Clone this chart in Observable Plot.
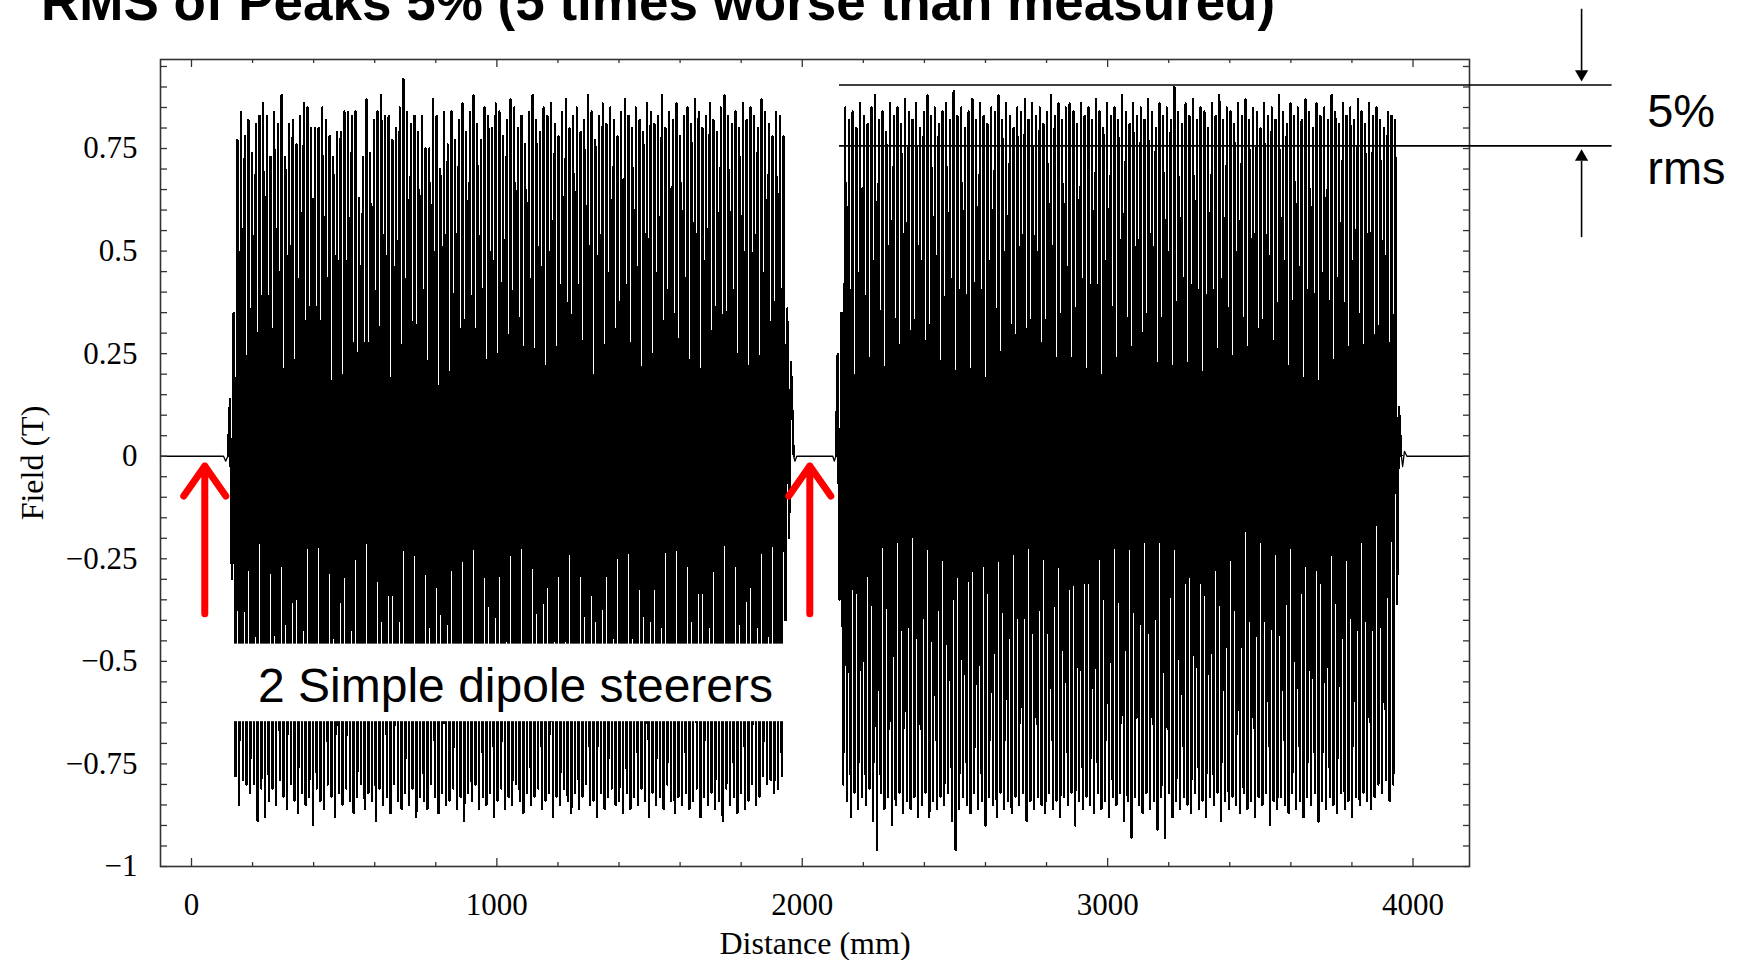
<!DOCTYPE html>
<html><head><meta charset="utf-8">
<script src="https://cdn.jsdelivr.net/npm/d3@7"></script>
<script src="https://cdn.jsdelivr.net/npm/@observablehq/plot@0.6"></script>
<style>
html,body{margin:0;padding:0;background:#fff;overflow:hidden;}
#wrap{position:relative;width:1738px;height:960px;}
#title{position:absolute;left:41px;top:-25px;font-family:"Liberation Sans",Arial,sans-serif;font-weight:bold;font-size:53px;line-height:53px;white-space:nowrap;color:#000;}
</style></head><body>
<div id="wrap"><div id="chart"></div><div id="title">RMS of Peaks 5% (5 times worse than measured)</div></div>
<script>
// ---- data (Distance in mm, Field in T) ----
const sec1Range = [126, 1963];
const sec2Range = [2116, 3954];
const sec1Top = [0.14,0.35,0.77,0.84,0.78,0.82,0.74,0.81,0.83,0.86,0.83,0.73,0.84,0.81,0.88,0.73,0.81,0.82,0.76,0.83,
0.86,0.85,0.80,0.80,0.80,0.85,0.82,0.78,0.73,0.79,0.79,0.84,0.84,0.83,0.84,0.63,0.73,0.87,0.74,0.82,
0.84,0.88,0.83,0.83,0.77,0.80,0.85,0.92,0.84,0.81,0.83,0.79,0.83,0.75,0.75,0.87,0.83,0.70,0.84,0.76,
0.84,0.77,0.82,0.86,0.79,0.84,0.88,0.81,0.77,0.85,0.83,0.80,0.86,0.84,0.78,0.82,0.87,0.85,0.80,0.83,
0.76,0.84,0.88,0.82,0.79,0.85,0.83,0.86,0.81,0.78,0.84,0.87,0.80,0.83,0.85,0.79,0.82,0.88,0.84,0.77,
0.83,0.86,0.81,0.85,0.82,0.78,0.84,0.87,0.83,0.80,0.85,0.82,0.79,0.86,0.84,0.81,0.83,0.88,0.80,0.84,
0.82,0.86,0.78,0.83,0.85,0.81,0.87,0.84,0.80,0.83,0.86,0.82,0.79,0.85,0.88,0.83,0.81,0.84,0.80,0.86,
0.82,0.85,0.83,0.80,0.87,0.84,0.81,0.78,0.84,0.83,0.78,0.36,0.23];
const sec1Bot = [-0.30,-0.78,-0.85,-0.79,-0.80,-0.82,-0.80,-0.89,-0.81,-0.88,-0.84,-0.81,-0.85,-0.79,-0.83,-0.86,-0.80,-0.84,-0.87,-0.82,
-0.85,-0.83,-0.90,-0.81,-0.84,-0.86,-0.80,-0.83,-0.88,-0.82,-0.85,-0.81,-0.84,-0.87,-0.83,-0.80,-0.86,-0.82,-0.84,-0.89,
-0.81,-0.85,-0.83,-0.87,-0.80,-0.84,-0.86,-0.82,-0.85,-0.81,-0.88,-0.83,-0.84,-0.86,-0.80,-0.83,-0.87,-0.82,-0.85,-0.84,
-0.81,-0.86,-0.83,-0.89,-0.82,-0.84,-0.80,-0.86,-0.83,-0.85,-0.82,-0.88,-0.84,-0.81,-0.86,-0.83,-0.85,-0.80,-0.84,-0.87,
-0.82,-0.85,-0.83,-0.81,-0.86,-0.84,-0.82,-0.88,-0.83,-0.85,-0.81,-0.84,-0.87,-0.82,-0.86,-0.83,-0.80,-0.85,-0.84,-0.88,
-0.82,-0.86,-0.83,-0.81,-0.85,-0.84,-0.87,-0.82,-0.86,-0.83,-0.85,-0.81,-0.84,-0.88,-0.82,-0.85,-0.83,-0.86,-0.80,-0.84,
-0.87,-0.83,-0.85,-0.82,-0.86,-0.84,-0.81,-0.88,-0.83,-0.85,-0.82,-0.86,-0.84,-0.89,-0.81,-0.85,-0.83,-0.87,-0.82,-0.86,
-0.84,-0.80,-0.85,-0.83,-0.78,-0.80,-0.79,-0.82,-0.81,-0.78,-0.40,-0.20];
const sec2Top = [0.25,0.35,0.85,0.82,0.84,0.80,0.86,0.83,0.81,0.85,0.88,0.82,0.84,0.79,0.86,0.83,0.85,0.81,0.87,0.84,
0.82,0.86,0.80,0.84,0.88,0.83,0.85,0.81,0.84,0.86,0.82,0.89,0.83,0.85,0.80,0.84,0.87,0.82,0.86,0.83,
0.81,0.85,0.84,0.88,0.82,0.86,0.83,0.80,0.85,0.84,0.87,0.82,0.86,0.83,0.85,0.81,0.84,0.88,0.83,0.86,
0.82,0.85,0.86,0.84,0.81,0.86,0.83,0.85,0.82,0.87,0.84,0.80,0.86,0.83,0.85,0.82,0.88,0.84,0.81,0.86,
0.83,0.85,0.82,0.87,0.84,0.80,0.86,0.83,0.85,0.82,0.90,0.84,0.81,0.86,0.83,0.87,0.82,0.85,0.84,0.80,
0.86,0.83,0.88,0.82,0.85,0.84,0.81,0.86,0.83,0.87,0.82,0.85,0.84,0.80,0.86,0.83,0.85,0.82,0.88,0.84,
0.81,0.86,0.83,0.85,0.82,0.87,0.84,0.80,0.86,0.83,0.85,0.82,0.88,0.84,0.81,0.86,0.83,0.85,0.82,0.87,
0.84,0.81,0.86,0.83,0.85,0.82,0.80,0.84,0.83,0.82,0.12];
const sec2Bot = [-0.35,-0.80,-0.84,-0.88,-0.82,-0.86,-0.83,-0.85,-0.81,-0.89,-0.96,-0.82,-0.86,-0.83,-0.90,-0.85,-0.82,-0.87,-0.84,-0.86,
-0.83,-0.88,-0.85,-0.82,-0.88,-0.84,-0.86,-0.83,-0.85,-0.82,-0.89,-0.96,-0.86,-0.83,-0.85,-0.87,-0.82,-0.86,-0.84,-0.90,
-0.83,-0.85,-0.88,-0.82,-0.86,-0.84,-0.87,-0.83,-0.85,-0.82,-0.89,-0.84,-0.86,-0.83,-0.85,-0.87,-0.82,-0.86,-0.84,-0.88,
-0.83,-0.85,-0.82,-0.90,-0.84,-0.86,-0.83,-0.85,-0.87,-0.82,-0.86,-0.84,-0.88,-0.83,-0.85,-0.82,-0.89,-0.84,-0.93,-0.83,
-0.85,-0.87,-0.82,-0.86,-0.84,-0.91,-0.83,-0.93,-0.82,-0.88,-0.84,-0.86,-0.83,-0.85,-0.87,-0.82,-0.86,-0.84,-0.88,-0.83,
-0.85,-0.82,-0.89,-0.84,-0.86,-0.83,-0.85,-0.87,-0.82,-0.86,-0.84,-0.88,-0.83,-0.85,-0.82,-0.90,-0.84,-0.86,-0.83,-0.85,
-0.87,-0.82,-0.86,-0.84,-0.88,-0.83,-0.85,-0.82,-0.89,-0.84,-0.86,-0.83,-0.85,-0.87,-0.82,-0.86,-0.84,-0.88,-0.83,-0.85,
-0.82,-0.84,-0.86,-0.83,-0.80,-0.82,-0.79,-0.84,-0.80,-0.36];
// near-zero regions around the two undulator sections
const leadIn  = [[-101.5, 0], [105, 0], [112, -0.012], [119, 0]];
const gap     = [[1972, 0], [1976, -0.012], [1982, 0], [2100, 0], [2105, -0.012], [2110, 0]];
const tail    = [[3962, 0], [3966, -0.025], [3972, 0.012], [3980, 0], [4185, 0]];

const xTicksMajor = [0, 1000, 2000, 3000, 4000];
const yTicksLabeled = [-1, -0.75, -0.5, -0.25, 0, 0.25, 0.5, 0.75];

// annotations (data units)
const rmsHigh = 0.905, rmsLow = 0.7565;
const steererX = [43.5, 2024.7];
const boxText = "2 Simple dipole steerers";

// ---- build the trace ----
function section([a, b], tops, bots) {
  const n = Math.max(tops.length, bots.length);
  const p = (b - a) / (n - 1);
  const pts = [];
  for (let i = 0; i < n; i++) {
    if (i < tops.length) pts.push({x: a + i * p, y: tops[i]});
    if (i < bots.length) pts.push({x: a + i * p + p / 2, y: bots[i]});
  }
  return pts;
}
const toPts = (arr, k) => arr.map(([x, y]) => ({x, y, k}));
const flatParts = [...toPts(leadIn, "a"), ...toPts(gap, "b"), ...toPts(tail, "c")];
const wave1 = [{...toPts(leadIn, "w1").at(-1)}, ...section(sec1Range, sec1Top, sec1Bot).map(d => ({...d, k: "w1"})), {...toPts(gap, "w1")[0]}];
const wave2 = [{...toPts(gap, "w2").at(-1)}, ...section(sec2Range, sec2Top, sec2Bot).map(d => ({...d, k: "w2"})), {...toPts(tail, "w2")[0]}];
const waveParts = [...wave1, ...wave2];

const xMinor = d3.range(200, 4001, 200).filter(d => d % 1000 !== 0);
const yMinor = d3.range(-100, 96, 5).map(d => d / 100);
const innerW = 1738 - 160 - 269, innerH = 960 - 59 - 94;
const frameColor = "#333";
const fmt = d => (d < 0 ? "\u2212" : "") + String(Math.abs(d));
const sans = "'Liberation Sans',Arial,sans-serif";

const chart = Plot.plot({
  width: 1738, height: 960,
  marginLeft: 160, marginRight: 269, marginTop: 59, marginBottom: 94,
  x: {domain: [-101.5, 4185]},
  y: {domain: [-1, 0.967]},
  style: {fontFamily: "'Liberation Serif','Times New Roman',serif", background: "white", overflow: "visible"},
  marks: [
    Plot.line(flatParts, {x: "x", y: "y", z: "k", stroke: "black", strokeWidth: 1.3}),
    Plot.line(waveParts, {x: "x", y: "y", z: "k", stroke: "black", strokeWidth: 2.3, shapeRendering: "crispEdges"}),
    Plot.frame({stroke: frameColor, strokeWidth: 1.6}),
    // x ticks (inside, bottom and top)
    Plot.ruleX(xTicksMajor, {x: d => d, insetTop: innerH - 8, stroke: frameColor, strokeWidth: 1.3}),
    Plot.ruleX(xMinor, {x: d => d, insetTop: innerH - 4, stroke: frameColor, strokeWidth: 1.3}),
    Plot.ruleX(xTicksMajor, {x: d => d, insetBottom: innerH - 8, stroke: frameColor, strokeWidth: 1.3}),
    Plot.ruleX(xMinor, {x: d => d, insetBottom: innerH - 4, stroke: frameColor, strokeWidth: 1.3}),
    // y ticks (inside, left and right)
    Plot.ruleY(yMinor, {y: d => d, insetRight: innerW - 7, stroke: frameColor, strokeWidth: 1.3}),
    Plot.ruleY(yMinor, {y: d => d, insetLeft: innerW - 6, stroke: frameColor, strokeWidth: 1.3}),
    Plot.axisX({ticks: xTicksMajor, tickSize: 0, tickPadding: 26, fontSize: 31, tickFormat: d => String(d), label: null}),
    Plot.axisY({ticks: yTicksLabeled, tickSize: 0, tickPadding: 23, fontSize: 31, tickFormat: fmt, label: null}),
    Plot.text(["Distance (mm)"], {frameAnchor: "bottom", dy: 87, textAnchor: "middle", lineAnchor: "bottom", fontSize: 32, fill: "black"}),
    Plot.text(["Field (T)"], {frameAnchor: "left", dx: -118, rotate: -90, textAnchor: "middle", lineAnchor: "bottom", fontSize: 32, fill: "black"}),
    // rms band annotation
    Plot.ruleY([rmsHigh, rmsLow], {y: d => d, x1: 2122, x2: 4652, stroke: "black", strokeWidth: 1.6}),
    Plot.link([{x: 4552, y1: 1.0907, y2: 0.94}, {x: 4552, y1: 0.534, y2: 0.72}], {x1: "x", x2: "x", y1: "y1", y2: "y2", stroke: "black", strokeWidth: 1.6}),
    Plot.dot([{y: 0.9318, r: 180}, {y: 0.7297, r: 0}], {x: 4552, y: "y", symbol: "triangle2", r: 6.3, rotate: "r", fill: "black", stroke: null}),
    Plot.text(["5%"], {x: 4767, y: 0.8036, textAnchor: "start", lineAnchor: "bottom", fontSize: 47, fontFamily: sans, fill: "black"}),
    Plot.text(["rms"], {x: 4767, y: 0.664, textAnchor: "start", lineAnchor: "bottom", fontSize: 47, fontFamily: sans, fill: "black"}),
    // steerer label box
    Plot.rect([{x1: 37, x2: 2078, y1: -0.458, y2: -0.647}], {x1: "x1", x2: "x2", y1: "y1", y2: "y2", fill: "white"}),
    Plot.text([boxText], {x: 218, y: -0.600, textAnchor: "start", lineAnchor: "bottom", fontSize: 48, fontFamily: sans, fill: "black"}),
    // steerer arrows
    Plot.arrow(steererX, {x1: d => d, x2: d => d, y1: -0.384, y2: -0.024, stroke: "#ff0000", strokeWidth: 7, headLength: 7.85, headAngle: 70, strokeLinecap: "round", strokeLinejoin: "round"})
  ]
});
document.getElementById("chart").appendChild(chart);
</script>
</body></html>
